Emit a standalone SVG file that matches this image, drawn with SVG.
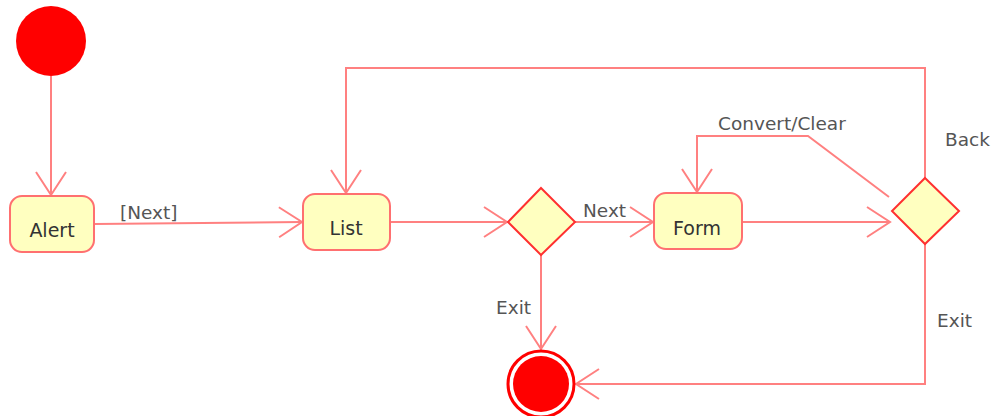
<svg xmlns="http://www.w3.org/2000/svg" width="993" height="416" viewBox="0 0 993 416">
  <style>
    .edge { fill: none; stroke: #ff8080; stroke-width: 2; }
    .state { fill: #ffffc0; stroke: #ff7070; stroke-width: 2; }
    .decision { fill: #ffffc0; stroke: #ff3030; stroke-width: 2; }
    .name { font-family: "DejaVu Sans", sans-serif; font-size: 19px; fill: #333333; text-anchor: middle; }
    .label { font-family: "DejaVu Sans", sans-serif; font-size: 18.5px; fill: #555555; }
  </style>
  <defs>
    <marker id="open" markerUnits="userSpaceOnUse" markerWidth="30" markerHeight="34" refX="25" refY="16" orient="auto" viewBox="0 0 30 34">
      <path d="M2 1 L25 16 L2 31" fill="none" stroke="#ff8080" stroke-width="2"/>
    </marker>
  </defs>

  <g id="connectors">
    <path class="edge" d="M51 76 L51 195" marker-end="url(#open)"/>
    <path class="edge" d="M95 224 L302 222" marker-end="url(#open)"/>
    <path class="edge" d="M390 222 L507 222" marker-end="url(#open)"/>
    <path class="edge" d="M575 222 L653 222" marker-end="url(#open)"/>
    <path class="edge" d="M742 222 L890 222" marker-end="url(#open)"/>
    <path class="edge" d="M889 197 L808 136 L697 136 L697 192" marker-end="url(#open)"/>
    <path class="edge" d="M925 178 L925 68 L346 68 L346 193" marker-end="url(#open)"/>
    <path class="edge" d="M541 255 L541 349" marker-end="url(#open)"/>
    <path class="edge" d="M925 244 L925 384 L576 384" marker-end="url(#open)"/>
    <text class="label" x="120" y="219">[Next]</text>
    <text class="label" x="583" y="217">Next</text>
    <text class="label" x="718" y="130">Convert/Clear</text>
    <text class="label" x="945" y="146">Back</text>
    <text class="label" x="496" y="314">Exit</text>
    <text class="label" x="937" y="327">Exit</text>
  </g>

  <g id="start">
    <circle cx="51" cy="41" r="35" fill="#ff0000"/>
  </g>

  <g id="alert">
    <rect class="state" x="10" y="196" width="84" height="56" rx="12"/>
    <text class="name" x="52" y="237">Alert</text>
  </g>

  <g id="list">
    <rect class="state" x="303" y="194" width="87" height="56" rx="12"/>
    <text class="name" x="346" y="235">List</text>
  </g>

  <g id="choice1">
    <polygon class="decision" points="541,188 575,222 541,255 508,222"/>
  </g>

  <g id="form">
    <rect class="state" x="654" y="193" width="88" height="56" rx="12"/>
    <text class="name" x="697" y="235">Form</text>
  </g>

  <g id="choice2">
    <polygon class="decision" points="925,178 959,211 925,244 892,211"/>
  </g>

  <g id="end">
    <circle cx="541" cy="384" r="33" fill="#ffffff" stroke="#ff0000" stroke-width="3"/>
    <circle cx="541" cy="384" r="28" fill="#ff0000"/>
  </g>
</svg>
